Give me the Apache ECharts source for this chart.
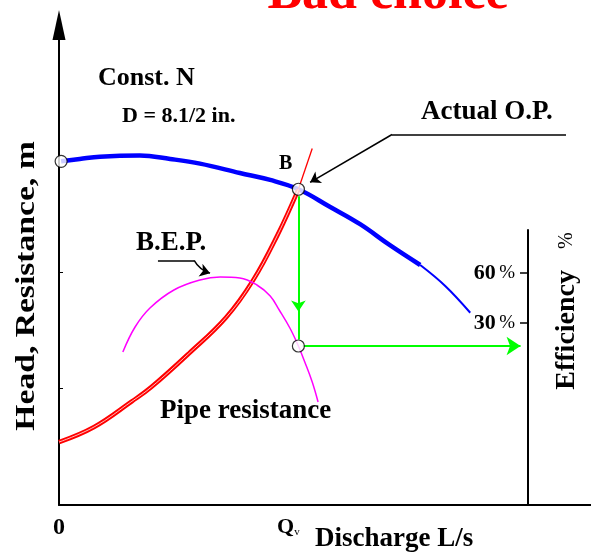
<!DOCTYPE html>
<html>
<head>
<meta charset="utf-8">
<title>Bad choice</title>
<script src="https://cdn.jsdelivr.net/npm/echarts@6.0.0/dist/echarts.min.js"></script>
<style>
html, body { margin: 0; padding: 0; background: #fff; }
#main { width: 591px; height: 557px; }
</style>
</head>
<body>
<div id="main"></div>
<script>
// schematic scales: discharge 0..100, head 0..41.2 m, efficiency axis -79.2..85.8 %
var qMax = 100;
var hMax = 41.2;
var effMin = -79.2;
var effMax = 85.8;
var headTicks = [10, 20];
var effTicks = [30, 60];

// operating point B
var qOp = 45.0;
var hOp = 27.1;
var effOp = 16.2;

// pump H-Q curve (blue), thick part ends at index 12
var pumpQ = [0.4, 3.9, 7.7, 15.2, 20.9, 26.5, 34.0, 39.7, 45.0, 50.9, 56.6, 62.2, 67.9, 72.6, 77.3];
var pumpH = [29.5, 29.7, 29.9, 30.0, 29.7, 29.3, 28.5, 27.9, 27.1, 25.6, 24.1, 22.3, 20.6, 18.8, 16.5];
var pumpSplit = 12;

// pipe resistance (red), double line up to B then thin
var pipeQ = [0, 6.6, 13.7, 17.3, 24.4, 31.4, 36.5, 41.0, 45.0, 47.6];
var pipeH = [5.4, 6.7, 8.9, 10.1, 13.0, 16.1, 19.3, 23.1, 27.1, 30.6];
var pipeSplit = 8;

// efficiency curve (magenta), read on the right axis
var effQ = [12.0, 14.3, 17.1, 21.6, 26.5, 30.3, 34.0, 37.2, 39.7, 41.4, 43.4, 45.0, 46.2, 47.6, 48.7];
var effV = [12.6, 27.6, 39.0, 49.8, 55.8, 57.6, 57.0, 52.8, 46.2, 37.8, 27.0, 16.2, 6.6, -5.4, -17.4];

var effAxisQ = 88.16;   // discharge where the efficiency axis stands
var shutoffH = 29.5;

function pairs(xs, ys, from, to) {
    var out = [];
    for (var i = from; i < to; i++) out.push([xs[i], ys[i]]);
    return out;
}

var serif = '"Liberation Serif", "Times New Roman", serif';
var myChart = echarts.init(document.getElementById('main'));

var option = {
    animation: false,
    backgroundColor: '#fff',
    grid: [
        {left: 59, right: 0, top: 25, bottom: 52},
        // same discharge scale, but ends at the efficiency axis
        {left: 59, right: 63, top: 230, bottom: 52}
    ],
    xAxis: [{
        type: 'value', gridIndex: 0, min: 0, max: qMax,
        axisLine: {onZero: false, lineStyle: {color: '#000', width: 2}},
        axisTick: {show: false},
        splitLine: {show: false},
        axisLabel: {
            customValues: [0, qOp],
            margin: 11,
            formatter: function (v) {
                return v === 0 ? '{z|0}' : '{q|Q}{v|v}';
            },
            rich: {
                z: {fontFamily: serif, fontWeight: 'bold', fontSize: 24, color: '#000'},
                q: {fontFamily: serif, fontWeight: 'bold', fontSize: 22, color: '#000'},
                v: {fontFamily: serif, fontSize: 11, color: '#000', padding: [0, 20, 0, 0], verticalAlign: 'bottom'}
            }
        }
    }, {
        type: 'value', gridIndex: 1, min: 0, max: effAxisQ, show: false
    }],
    yAxis: [{
        type: 'value', gridIndex: 0, min: 0, max: hMax,
        axisLine: {show: true, onZero: false, lineStyle: {color: '#000', width: 2},
            symbol: ['none', 'triangle'], symbolSize: [13, 30]},
        axisTick: {show: true, inside: true, length: 4, customValues: headTicks,
            lineStyle: {color: '#000', width: 1}},
        axisLabel: {show: false},
        splitLine: {show: false}
    }, {
        type: 'value', gridIndex: 1, min: effMin, max: effMax,
        position: 'right',
        axisLine: {show: true, onZero: false, lineStyle: {color: '#000', width: 2}},
        axisTick: {show: true, inside: true, length: 8, customValues: effTicks,
            lineStyle: {color: '#000', width: 1.5}},
        axisLabel: {
            show: true, inside: true, margin: 13,
            customValues: effTicks,
            formatter: function (v) { return '{n|' + v + '} {p|%}'; },
            rich: {
                n: {fontFamily: serif, fontWeight: 'bold', fontSize: 22, color: '#000'},
                p: {fontFamily: serif, fontSize: 19, color: '#000'}
            }
        },
        splitLine: {show: false}
    }],
    series: [{
        type: 'line', name: 'pump', smooth: 0.4, symbol: 'none',
        lineStyle: {color: '#0000ff', width: 4.5},
        data: pairs(pumpQ, pumpH, 0, pumpSplit + 1)
    }, {
        type: 'line', name: 'pump tail', smooth: 0.4, symbol: 'none',
        lineStyle: {color: '#0000ff', width: 2},
        data: pairs(pumpQ, pumpH, pumpSplit, pumpQ.length)
    }, {
        type: 'line', name: 'pipe', smooth: 0.4, symbol: 'none',
        lineStyle: {color: '#ff0000', width: 4.5},
        data: pairs(pipeQ, pipeH, 0, pipeSplit + 1)
    }, {
        type: 'line', name: 'pipe core', smooth: 0.4, symbol: 'none',
        lineStyle: {color: '#ffffff', width: 1, opacity: 0.75},
        data: pairs(pipeQ, pipeH, 0, pipeSplit + 1)
    }, {
        type: 'line', name: 'pipe tail', smooth: 0.4, symbol: 'none',
        lineStyle: {color: '#ff0000', width: 1.3},
        data: pairs(pipeQ, pipeH, pipeSplit, pipeQ.length)
    }, {
        type: 'line', name: 'efficiency', smooth: 0.4, symbol: 'none',
        xAxisIndex: 1, yAxisIndex: 1,
        lineStyle: {color: '#ff00ff', width: 1.5},
        data: pairs(effQ, effV, 0, effQ.length)
    }, {
        // green construction lines
        type: 'lines', coordinateSystem: 'cartesian2d', xAxisIndex: 0, yAxisIndex: 0,
        symbol: ['none', 'arrow'], symbolSize: 11,
        lineStyle: {color: '#00ff00', width: 2, opacity: 1},
        data: [{coords: [[qOp, hOp - 0.6], [qOp, 16.6]]}]
    }, {
        type: 'lines', coordinateSystem: 'cartesian2d', xAxisIndex: 0, yAxisIndex: 0,
        symbol: 'none',
        lineStyle: {color: '#00ff00', width: 2, opacity: 1},
        data: [{coords: [[qOp, 17.5], [qOp, 14.2]]}]
    }, {
        type: 'lines', coordinateSystem: 'cartesian2d', xAxisIndex: 1, yAxisIndex: 1,
        symbol: ['none', 'arrow'], symbolSize: 14,
        lineStyle: {color: '#00ff00', width: 2, opacity: 1},
        data: [{coords: [[qOp + 0.8, effOp], [effAxisQ - 1.4, effOp]]}]
    }, {
        // leaders to the labels
        type: 'lines', coordinateSystem: 'cartesian2d', xAxisIndex: 0, yAxisIndex: 0,
        symbol: 'none',
        lineStyle: {color: '#000', width: 1.5, opacity: 1},
        data: [
            {coords: [[95.3, 31.8], [62.6, 31.8]]},
            {coords: [[18.6, 21.0], [25.4, 21.0]]}
        ]
    }, {
        type: 'lines', coordinateSystem: 'cartesian2d', xAxisIndex: 0, yAxisIndex: 0,
        symbol: ['none', 'arrow'], symbolSize: 10,
        lineStyle: {color: '#000', width: 1.5, opacity: 1},
        data: [
            {coords: [[62.6, 31.8], [47.2, 27.7]]},
            {coords: [[25.4, 21.0], [28.4, 19.9]], lineStyle: {curveness: -0.2}}
        ]
    }, {
        type: 'scatter', name: 'points', z: 5,
        symbol: 'circle', symbolSize: 12,
        itemStyle: {color: '#fff', borderColor: '#000', borderWidth: 1.2},
        data: [[pumpQ[0], shutoffH], [qOp, hOp]]
    }, {
        type: 'scatter', name: 'eff point', z: 5, xAxisIndex: 1, yAxisIndex: 1,
        symbol: 'circle', symbolSize: 12,
        itemStyle: {color: '#fff', borderColor: '#000', borderWidth: 1.2},
        data: [[qOp, effOp]]
    }],
    graphic: [
        {type: 'text', x: 388, y: -5, style: {text: 'Bad choice', fill: '#ff0000',
            font: 'bold 52px ' + serif, align: 'center', verticalAlign: 'middle'}},
        {type: 'text', x: 98, y: 78, style: {text: 'Const. N', fill: '#000',
            font: 'bold 26px ' + serif, align: 'left', verticalAlign: 'middle'}},
        {type: 'text', x: 122, y: 116, style: {text: 'D = 8.1/2 in.', fill: '#000',
            font: 'bold 22px ' + serif, align: 'left', verticalAlign: 'middle'}},
        {type: 'text', x: 421, y: 112, style: {text: 'Actual O.P.', fill: '#000',
            font: 'bold 27px ' + serif, align: 'left', verticalAlign: 'middle'}},
        {type: 'text', x: 279, y: 164, style: {text: 'B', fill: '#000',
            font: 'bold 20px ' + serif, align: 'left', verticalAlign: 'middle'}},
        {type: 'text', x: 136, y: 243, style: {text: 'B.E.P.', fill: '#000',
            font: 'bold 27px ' + serif, align: 'left', verticalAlign: 'middle'}},
        {type: 'text', x: 160, y: 411, style: {text: 'Pipe resistance', fill: '#000',
            font: 'bold 27px ' + serif, align: 'left', verticalAlign: 'middle'}},
        {type: 'text', x: 315, y: 539, style: {text: 'Discharge L/s', fill: '#000',
            font: 'bold 27px ' + serif, align: 'left', verticalAlign: 'middle'}},
        {type: 'text', x: 27, y: 286, rotation: Math.PI / 2, scaleX: 1.2,
            style: {text: 'Head, Resistance, m', fill: '#000',
            font: 'bold 28px ' + serif, align: 'center', verticalAlign: 'middle'}},
        {type: 'text', x: 567, y: 311, rotation: Math.PI / 2,
            style: {text: 'Efficiency {p|%}', fill: '#000',
            font: 'bold 28px ' + serif, align: 'center', verticalAlign: 'middle',
            rich: {p: {fontFamily: serif, fontSize: 20, fontWeight: 'normal', padding: [0, 0, 0, 14]}}}}
    ]
};
myChart.setOption(option);
</script>
</body>
</html>
